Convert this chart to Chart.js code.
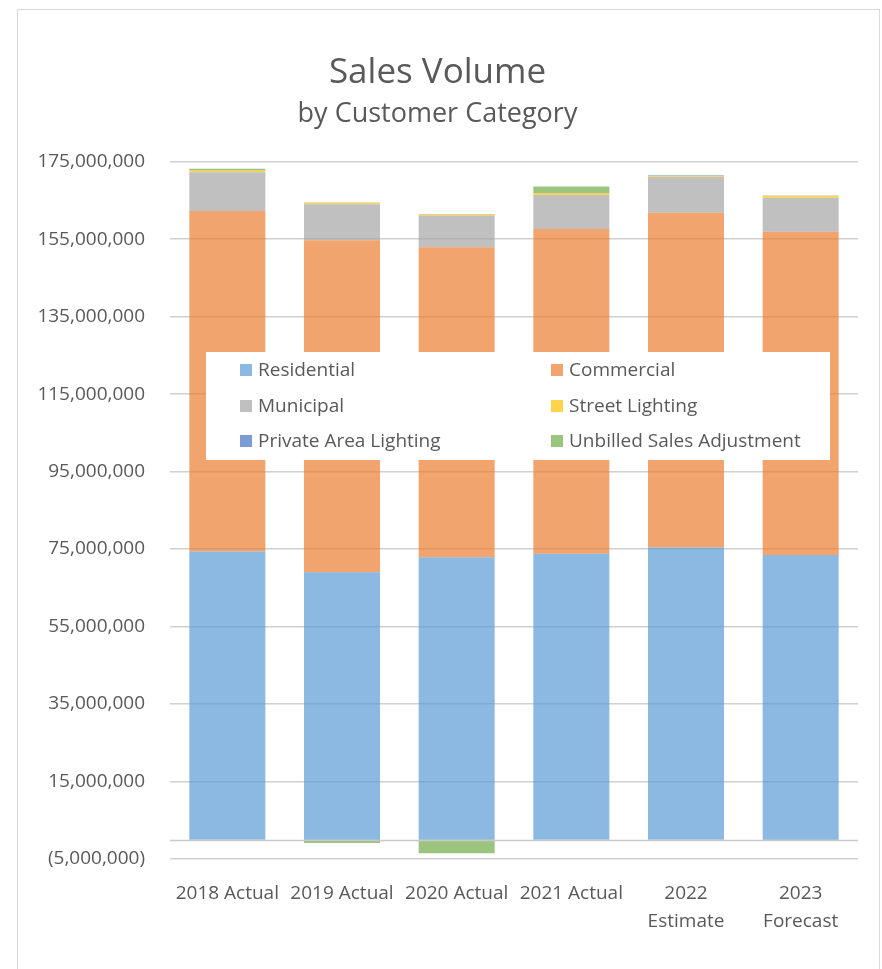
<!DOCTYPE html>
<html><head><meta charset="utf-8">
<script src="https://cdn.jsdelivr.net/npm/chart.js@4.4.1/dist/chart.umd.min.js"></script>
<style>
html,body{margin:0;padding:0;background:#fff;overflow:hidden;}
#wrap{position:relative;width:882px;height:969px;}
#frame{position:absolute;left:17px;top:9px;width:863px;height:1000px;border:1px solid #d9d9d9;box-sizing:border-box;pointer-events:none;}
canvas{position:absolute;left:0;top:0;}
</style></head><body>
<div id="wrap"><canvas id="c" width="882" height="969"></canvas><div id="frame"></div></div>
<script>
const categories = ['2018 Actual', '2019 Actual', '2020 Actual', '2021 Actual', ['2022', 'Estimate'], ['2023', 'Forecast']];
const residential = [74400000, 69000000, 72900000, 73800000, 75400000, 73500000];
const commercial = [87900000, 85700000, 80000000, 83800000, 86400000, 83400000];
const municipal = [10000000, 9300000, 8200000, 8800000, 9300000, 8800000];
const streetLighting = [450000, 400000, 350000, 450000, 200000, 500000];
const privateAreaLighting = [60000, 60000, 60000, 60000, 60000, 60000];
const unbilledSalesAdjustment = [400000, -850000, -3500000, 1700000, 150000, -300000];
const seriesNames = ['Residential', 'Commercial', 'Municipal', 'Street Lighting', 'Private Area Lighting', 'Unbilled Sales Adjustment'];
const yTickValues = [-5000000, 15000000, 35000000, 55000000, 75000000, 95000000, 115000000, 135000000, 155000000, 175000000];

const colors = ['rgba(91,155,213,0.7)', 'rgba(237,125,49,0.7)', 'rgba(165,165,165,0.7)', 'rgba(255,192,0,0.7)', 'rgba(68,114,196,0.7)', 'rgba(112,173,71,0.7)'];
const allSeries = [residential, commercial, municipal, streetLighting, privateAreaLighting, unbilledSalesAdjustment];
const FONT = "'Open Sans', 'Noto Sans', sans-serif";
const TXT = '#595959';

function fmt(v) {
  const s = Math.abs(v).toLocaleString('en-US');
  return v < 0 ? '(' + s + ')' : s;
}

const zeroLine = {
  id: 'zeroLine',
  afterDatasetsDraw(chart) {
    const ctx = chart.ctx, a = chart.chartArea;
    const y = Math.round(chart.scales.y.getPixelForValue(0)) + 0.5;
    ctx.save();
    ctx.strokeStyle = '#c8c8c8'; ctx.lineWidth = 1.5;
    ctx.beginPath(); ctx.moveTo(a.left, y); ctx.lineTo(a.right, y); ctx.stroke();
    ctx.restore();
  }
};

const boxLegend = {
  id: 'boxLegend',
  afterDatasetsDraw(chart) {
    const ctx = chart.ctx;
    const bx = 206, by = 352, bw = 624, bh = 108;
    ctx.save();
    ctx.fillStyle = '#ffffff';
    ctx.fillRect(bx, by, bw, bh);
    ctx.font = '19px ' + FONT;
    ctx.textBaseline = 'middle';
    ctx.textAlign = 'left';
    const colX = [240, 551];
    const rowY = [370, 406, 441];
    seriesNames.forEach((n, i) => {
      const cx = colX[i % 2], cy = rowY[Math.floor(i / 2)];
      ctx.fillStyle = colors[i];
      ctx.fillRect(cx, cy - 6, 12, 12);
      ctx.fillStyle = TXT;
      ctx.fillText(n, cx + 18, cy + 1);
    });
    ctx.restore();
  }
};

const datasets = seriesNames.map((n, i) => ({
  label: n,
  data: allSeries[i],
  backgroundColor: colors[i],
  borderWidth: 0,
  categoryPercentage: 1.0,
  barPercentage: 0.663
}));

new Chart(document.getElementById('c'), {
  type: 'bar',
  data: { labels: categories, datasets },
  plugins: [zeroLine, boxLegend],
  options: {
    responsive: false,
    devicePixelRatio: 1,
    animation: false,
    layout: { padding: { left: 17, right: 24, top: 10, bottom: 0 } },
    plugins: {
      legend: { display: false },
      tooltip: { enabled: false },
      title: {
        display: true, text: 'Sales Volume', color: TXT,
        font: { family: FONT, size: 35, weight: 'normal', lineHeight: 1.2 },
        padding: { top: 42, bottom: 0 }
      },
      subtitle: {
        display: true, text: 'by Customer Category', color: TXT,
        font: { family: FONT, size: 27, weight: 'normal', lineHeight: 1.2 },
        padding: { top: 3.8, bottom: 31.5 }
      }
    },
    scales: {
      x: {
        stacked: true,
        grid: { display: false, drawTicks: false },
        border: { display: false },
        ticks: { color: TXT, font: { family: FONT, size: 19, lineHeight: 1.47 }, padding: 20.5, maxRotation: 0, autoSkip: false },
        afterFit(s) { s.height = 110; }
      },
      y: {
        stacked: true,
        min: -5000000, max: 175000000,
        afterBuildTicks(s) { s.ticks = yTickValues.map(v => ({ value: v })); },
        grid: { color: '#d0d0d0', lineWidth: 1.5, drawTicks: false },
        border: { display: false },
        ticks: { color: TXT, font: { family: FONT, size: 19 }, padding: 25, callback: v => fmt(v) },
        afterFit(s) { s.width = 153; }
      }
    }
  }
});
</script>
</body></html>
